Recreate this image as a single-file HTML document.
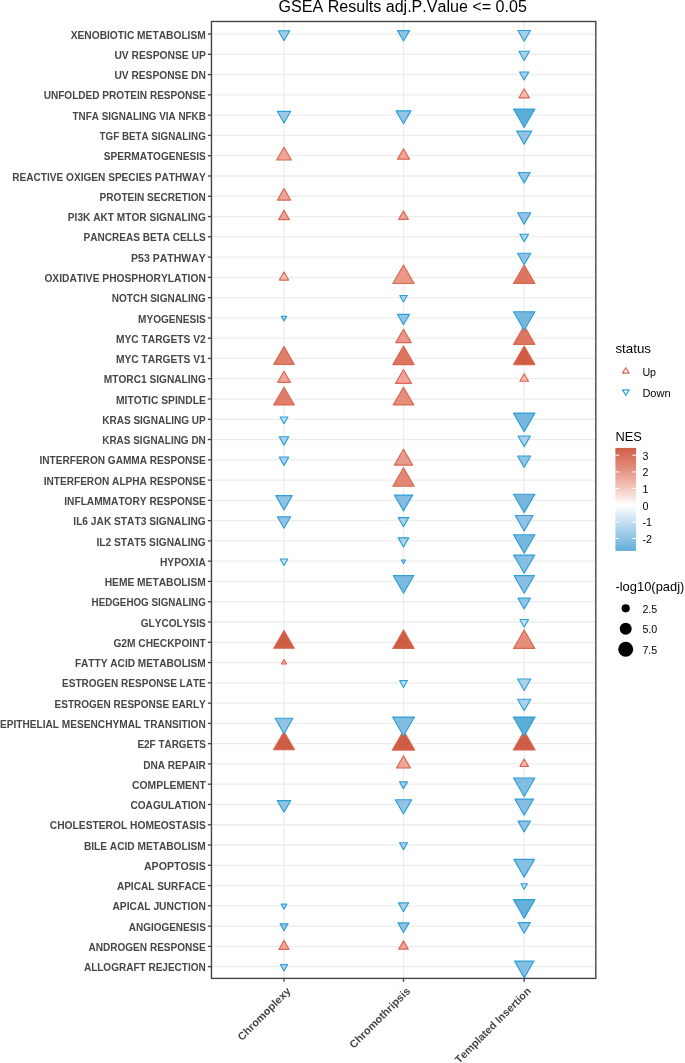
<!DOCTYPE html>
<html lang="en"><head><meta charset="utf-8"><title>GSEA Results</title>
<style>html,body{margin:0;padding:0;background:#fff}svg{display:block}text{font-family:"Liberation Sans",Arial,sans-serif;font-kerning:none}.yl{font-weight:bold;font-size:10.67px;fill:#464646}.xl{font-weight:bold;font-size:10.67px;fill:#464646}.lt{font-size:13.33px;fill:#000}.ll{font-size:10.67px;fill:#000}</style></head><body>
<svg width="685" height="1063" viewBox="0 0 685 1063">
<rect width="685" height="1063" fill="#fff"/>
<text x="402.7" y="11.8" font-size="16" text-anchor="middle" textLength="248.3" lengthAdjust="spacingAndGlyphs" fill="#000">GSEA Results adj.P.Value &lt;= 0.05</text>
<g stroke="#ededed" stroke-width="1.3">
<line x1="211.45" x2="595.8" y1="34.06" y2="34.06"/>
<line x1="211.45" x2="595.8" y1="54.33" y2="54.33"/>
<line x1="211.45" x2="595.8" y1="74.61" y2="74.61"/>
<line x1="211.45" x2="595.8" y1="94.88" y2="94.88"/>
<line x1="211.45" x2="595.8" y1="115.16" y2="115.16"/>
<line x1="211.45" x2="595.8" y1="135.43" y2="135.43"/>
<line x1="211.45" x2="595.8" y1="155.70" y2="155.70"/>
<line x1="211.45" x2="595.8" y1="175.98" y2="175.98"/>
<line x1="211.45" x2="595.8" y1="196.25" y2="196.25"/>
<line x1="211.45" x2="595.8" y1="216.53" y2="216.53"/>
<line x1="211.45" x2="595.8" y1="236.80" y2="236.80"/>
<line x1="211.45" x2="595.8" y1="257.07" y2="257.07"/>
<line x1="211.45" x2="595.8" y1="277.35" y2="277.35"/>
<line x1="211.45" x2="595.8" y1="297.62" y2="297.62"/>
<line x1="211.45" x2="595.8" y1="317.90" y2="317.90"/>
<line x1="211.45" x2="595.8" y1="338.17" y2="338.17"/>
<line x1="211.45" x2="595.8" y1="358.44" y2="358.44"/>
<line x1="211.45" x2="595.8" y1="378.72" y2="378.72"/>
<line x1="211.45" x2="595.8" y1="398.99" y2="398.99"/>
<line x1="211.45" x2="595.8" y1="419.27" y2="419.27"/>
<line x1="211.45" x2="595.8" y1="439.54" y2="439.54"/>
<line x1="211.45" x2="595.8" y1="459.81" y2="459.81"/>
<line x1="211.45" x2="595.8" y1="480.09" y2="480.09"/>
<line x1="211.45" x2="595.8" y1="500.36" y2="500.36"/>
<line x1="211.45" x2="595.8" y1="520.64" y2="520.64"/>
<line x1="211.45" x2="595.8" y1="540.91" y2="540.91"/>
<line x1="211.45" x2="595.8" y1="561.18" y2="561.18"/>
<line x1="211.45" x2="595.8" y1="581.46" y2="581.46"/>
<line x1="211.45" x2="595.8" y1="601.73" y2="601.73"/>
<line x1="211.45" x2="595.8" y1="622.01" y2="622.01"/>
<line x1="211.45" x2="595.8" y1="642.28" y2="642.28"/>
<line x1="211.45" x2="595.8" y1="662.55" y2="662.55"/>
<line x1="211.45" x2="595.8" y1="682.83" y2="682.83"/>
<line x1="211.45" x2="595.8" y1="703.10" y2="703.10"/>
<line x1="211.45" x2="595.8" y1="723.38" y2="723.38"/>
<line x1="211.45" x2="595.8" y1="743.65" y2="743.65"/>
<line x1="211.45" x2="595.8" y1="763.92" y2="763.92"/>
<line x1="211.45" x2="595.8" y1="784.20" y2="784.20"/>
<line x1="211.45" x2="595.8" y1="804.47" y2="804.47"/>
<line x1="211.45" x2="595.8" y1="824.75" y2="824.75"/>
<line x1="211.45" x2="595.8" y1="845.02" y2="845.02"/>
<line x1="211.45" x2="595.8" y1="865.29" y2="865.29"/>
<line x1="211.45" x2="595.8" y1="885.57" y2="885.57"/>
<line x1="211.45" x2="595.8" y1="905.84" y2="905.84"/>
<line x1="211.45" x2="595.8" y1="926.12" y2="926.12"/>
<line x1="211.45" x2="595.8" y1="946.39" y2="946.39"/>
<line x1="211.45" x2="595.8" y1="966.66" y2="966.66"/>
<line x1="284.00" x2="284.00" y1="21.5" y2="978.4"/>
<line x1="403.50" x2="403.50" y1="21.5" y2="978.4"/>
<line x1="524.20" x2="524.20" y1="21.5" y2="978.4"/>
</g>
<g stroke-width="1.15" stroke-linejoin="round">
<polygon points="284.00,970.98 287.74,964.50 280.26,964.50" fill="#ACD0EA" stroke="#2DA0D7"/>
<polygon points="524.20,977.88 533.92,961.05 514.48,961.05" fill="#84BDE1" stroke="#2DA0D7"/>
<polygon points="284.00,940.57 289.04,949.30 278.96,949.30" fill="#EEA597" stroke="#DA6752"/>
<polygon points="403.50,940.87 408.28,949.15 398.72,949.15" fill="#EEA597" stroke="#DA6752"/>
<polygon points="284.00,930.74 288.00,923.81 280.00,923.81" fill="#97C6E5" stroke="#2DA0D7"/>
<polygon points="403.50,932.54 409.06,922.91 397.94,922.91" fill="#92C3E4" stroke="#2DA0D7"/>
<polygon points="524.20,933.24 530.37,922.56 518.03,922.56" fill="#92C3E4" stroke="#2DA0D7"/>
<polygon points="284.00,909.16 286.88,904.18 281.12,904.18" fill="#B1D3EB" stroke="#2DA0D7"/>
<polygon points="403.50,911.66 408.54,902.93 398.46,902.93" fill="#ACD0EA" stroke="#2DA0D7"/>
<polygon points="524.20,918.16 534.87,899.68 513.53,899.68" fill="#66B0DA" stroke="#2DA0D7"/>
<polygon points="524.20,889.19 527.34,883.76 521.06,883.76" fill="#C6DEF1" stroke="#2DA0D7"/>
<polygon points="524.20,877.11 534.44,859.38 513.96,859.38" fill="#87BEE2" stroke="#2DA0D7"/>
<polygon points="403.50,849.64 407.50,842.71 399.50,842.71" fill="#ACD0EA" stroke="#2DA0D7"/>
<polygon points="524.20,831.87 530.37,821.19 518.03,821.19" fill="#92C3E4" stroke="#2DA0D7"/>
<polygon points="284.00,812.19 290.69,800.61 277.31,800.61" fill="#92C3E4" stroke="#2DA0D7"/>
<polygon points="403.50,813.99 411.74,799.71 395.26,799.71" fill="#92C3E4" stroke="#2DA0D7"/>
<polygon points="524.20,815.19 533.48,799.11 514.92,799.11" fill="#87BEE2" stroke="#2DA0D7"/>
<polygon points="403.50,788.82 407.50,781.89 399.50,781.89" fill="#A7CDE9" stroke="#2DA0D7"/>
<polygon points="524.20,796.52 534.87,778.04 513.53,778.04" fill="#82BCE0" stroke="#2DA0D7"/>
<polygon points="403.50,755.80 410.53,767.98 396.47,767.98" fill="#EEA597" stroke="#DA6752"/>
<polygon points="524.20,759.00 528.46,766.38 519.94,766.38" fill="#F4BBB0" stroke="#DA6752"/>
<polygon points="284.00,731.63 294.41,749.66 273.59,749.66" fill="#CF5D46" stroke="#DA6752"/>
<polygon points="403.50,730.73 414.69,750.11 392.31,750.11" fill="#CF5D46" stroke="#DA6752"/>
<polygon points="524.20,731.03 535.13,749.96 513.27,749.96" fill="#CF5D46" stroke="#DA6752"/>
<polygon points="284.00,733.60 292.85,718.27 275.15,718.27" fill="#92C3E4" stroke="#2DA0D7"/>
<polygon points="403.50,736.00 414.43,717.07 392.57,717.07" fill="#82BCE0" stroke="#2DA0D7"/>
<polygon points="524.20,736.00 535.13,717.07 513.27,717.07" fill="#5BACD8" stroke="#2DA0D7"/>
<polygon points="524.20,710.72 530.80,699.29 517.60,699.29" fill="#ACD0EA" stroke="#2DA0D7"/>
<polygon points="403.50,687.35 407.41,680.57 399.59,680.57" fill="#C6DEF1" stroke="#2DA0D7"/>
<polygon points="524.20,690.45 530.80,679.02 517.60,679.02" fill="#ACD0EA" stroke="#2DA0D7"/>
<polygon points="284.00,659.63 286.53,664.01 281.47,664.01" fill="#F4BBB0" stroke="#DA6752"/>
<polygon points="284.00,630.46 294.24,648.19 273.76,648.19" fill="#CF5D46" stroke="#DA6752"/>
<polygon points="403.50,629.96 414.17,648.44 392.83,648.44" fill="#CF5D46" stroke="#DA6752"/>
<polygon points="524.20,629.96 534.87,648.44 513.53,648.44" fill="#E58E7C" stroke="#DA6752"/>
<polygon points="524.20,627.03 528.55,619.50 519.85,619.50" fill="#C6DEF1" stroke="#2DA0D7"/>
<polygon points="524.20,608.85 530.37,598.17 518.03,598.17" fill="#92C3E4" stroke="#2DA0D7"/>
<polygon points="403.50,593.28 413.74,575.55 393.26,575.55" fill="#7CB9DF" stroke="#2DA0D7"/>
<polygon points="524.20,593.28 534.44,575.55 513.96,575.55" fill="#8ABFE2" stroke="#2DA0D7"/>
<polygon points="284.00,565.50 287.74,559.02 280.26,559.02" fill="#C6DEF1" stroke="#2DA0D7"/>
<polygon points="403.50,563.60 405.60,559.97 401.40,559.97" fill="#C6DEF1" stroke="#2DA0D7"/>
<polygon points="524.20,573.30 534.70,555.12 513.70,555.12" fill="#87BEE2" stroke="#2DA0D7"/>
<polygon points="403.50,547.03 408.80,537.85 398.20,537.85" fill="#ACD0EA" stroke="#2DA0D7"/>
<polygon points="524.20,553.23 534.87,534.75 513.53,534.75" fill="#77B7DE" stroke="#2DA0D7"/>
<polygon points="284.00,528.26 290.60,516.83 277.40,516.83" fill="#92C3E4" stroke="#2DA0D7"/>
<polygon points="403.50,526.76 408.80,517.58 398.20,517.58" fill="#ACD0EA" stroke="#2DA0D7"/>
<polygon points="524.20,530.96 533.14,515.48 515.26,515.48" fill="#92C3E4" stroke="#2DA0D7"/>
<polygon points="284.00,509.88 292.24,495.60 275.76,495.60" fill="#92C3E4" stroke="#2DA0D7"/>
<polygon points="403.50,510.88 412.61,495.10 394.39,495.10" fill="#84BDE1" stroke="#2DA0D7"/>
<polygon points="524.20,512.68 534.87,494.20 513.53,494.20" fill="#77B7DE" stroke="#2DA0D7"/>
<polygon points="403.50,467.77 414.17,486.25 392.83,486.25" fill="#E28674" stroke="#DA6752"/>
<polygon points="284.00,465.38 288.82,457.03 279.18,457.03" fill="#ACD0EA" stroke="#2DA0D7"/>
<polygon points="403.50,449.29 412.61,465.07 394.39,465.07" fill="#EA9A8A" stroke="#DA6752"/>
<polygon points="524.20,467.43 530.80,456.00 517.60,456.00" fill="#92C3E4" stroke="#2DA0D7"/>
<polygon points="284.00,445.11 288.82,436.75 279.18,436.75" fill="#ACD0EA" stroke="#2DA0D7"/>
<polygon points="524.20,446.66 530.37,435.98 518.03,435.98" fill="#ACD0EA" stroke="#2DA0D7"/>
<polygon points="284.00,423.79 287.91,417.01 280.09,417.01" fill="#C6DEF1" stroke="#2DA0D7"/>
<polygon points="524.20,431.59 534.87,413.11 513.53,413.11" fill="#77B7DE" stroke="#2DA0D7"/>
<polygon points="284.00,387.17 294.24,404.90 273.76,404.90" fill="#DF7F6B" stroke="#DA6752"/>
<polygon points="403.50,387.17 413.74,404.90 393.26,404.90" fill="#E58E7C" stroke="#DA6752"/>
<polygon points="284.00,371.30 290.43,382.43 277.57,382.43" fill="#EEA597" stroke="#DA6752"/>
<polygon points="403.50,369.50 411.48,383.33 395.52,383.33" fill="#EEA597" stroke="#DA6752"/>
<polygon points="524.20,373.70 528.55,381.23 519.85,381.23" fill="#F4BBB0" stroke="#DA6752"/>
<polygon points="284.00,346.62 294.24,364.35 273.76,364.35" fill="#DF7F6B" stroke="#DA6752"/>
<polygon points="403.50,346.12 414.17,364.60 392.83,364.60" fill="#DB7560" stroke="#DA6752"/>
<polygon points="524.20,346.12 534.87,364.60 513.53,364.60" fill="#CF5D46" stroke="#DA6752"/>
<polygon points="403.50,329.25 411.22,342.63 395.78,342.63" fill="#E99787" stroke="#DA6752"/>
<polygon points="524.20,325.85 534.87,344.33 513.53,344.33" fill="#DB7560" stroke="#DA6752"/>
<polygon points="284.00,320.87 286.57,316.41 281.43,316.41" fill="#C6DEF1" stroke="#2DA0D7"/>
<polygon points="403.50,324.82 409.49,314.44 397.51,314.44" fill="#92C3E4" stroke="#2DA0D7"/>
<polygon points="524.20,330.22 534.87,311.74 513.53,311.74" fill="#77B7DE" stroke="#2DA0D7"/>
<polygon points="403.50,301.94 407.24,295.46 399.76,295.46" fill="#ACD0EA" stroke="#2DA0D7"/>
<polygon points="284.00,271.93 288.69,280.06 279.31,280.06" fill="#F4BBB0" stroke="#DA6752"/>
<polygon points="403.50,265.03 414.17,283.51 392.83,283.51" fill="#E99787" stroke="#DA6752"/>
<polygon points="524.20,265.03 534.87,283.51 513.53,283.51" fill="#DB7560" stroke="#DA6752"/>
<polygon points="524.20,264.69 530.80,253.26 517.60,253.26" fill="#92C3E4" stroke="#2DA0D7"/>
<polygon points="524.20,241.82 528.55,234.29 519.85,234.29" fill="#ACD0EA" stroke="#2DA0D7"/>
<polygon points="284.00,210.21 289.47,219.69 278.53,219.69" fill="#EEA597" stroke="#DA6752"/>
<polygon points="403.50,210.96 408.32,219.31 398.68,219.31" fill="#EEA597" stroke="#DA6752"/>
<polygon points="524.20,224.15 530.80,212.72 517.60,212.72" fill="#92C3E4" stroke="#2DA0D7"/>
<polygon points="284.00,188.63 290.60,200.06 277.40,200.06" fill="#EEA597" stroke="#DA6752"/>
<polygon points="524.20,182.90 530.19,172.52 518.21,172.52" fill="#92C3E4" stroke="#2DA0D7"/>
<polygon points="284.00,147.18 291.38,159.96 276.62,159.96" fill="#EEA597" stroke="#DA6752"/>
<polygon points="403.50,148.78 409.49,159.16 397.51,159.16" fill="#EEA597" stroke="#DA6752"/>
<polygon points="524.20,144.15 531.75,131.07 516.65,131.07" fill="#92C3E4" stroke="#2DA0D7"/>
<polygon points="284.00,122.88 290.69,111.30 277.31,111.30" fill="#9FCAE7" stroke="#2DA0D7"/>
<polygon points="403.50,123.73 410.92,110.87 396.08,110.87" fill="#92C3E4" stroke="#2DA0D7"/>
<polygon points="524.20,127.48 534.87,109.00 513.53,109.00" fill="#5BACD8" stroke="#2DA0D7"/>
<polygon points="524.20,88.76 529.50,97.94 518.90,97.94" fill="#F4BBB0" stroke="#DA6752"/>
<polygon points="524.20,79.93 528.81,71.95 519.59,71.95" fill="#ACD0EA" stroke="#2DA0D7"/>
<polygon points="524.20,60.45 529.50,51.27 518.90,51.27" fill="#ACD0EA" stroke="#2DA0D7"/>
<polygon points="284.00,40.68 289.73,30.75 278.27,30.75" fill="#A2CBE8" stroke="#2DA0D7"/>
<polygon points="403.50,40.98 409.49,30.60 397.51,30.60" fill="#92C3E4" stroke="#2DA0D7"/>
<polygon points="524.20,41.28 530.45,30.45 517.95,30.45" fill="#A7CDE9" stroke="#2DA0D7"/>
</g>
<rect x="211.45" y="21.5" width="384.34999999999997" height="956.9" fill="none" stroke="#454545" stroke-width="1.4"/>
<g stroke="#444" stroke-width="1.3">
<line x1="207.9" x2="211.45" y1="34.06" y2="34.06"/>
<line x1="207.9" x2="211.45" y1="54.33" y2="54.33"/>
<line x1="207.9" x2="211.45" y1="74.61" y2="74.61"/>
<line x1="207.9" x2="211.45" y1="94.88" y2="94.88"/>
<line x1="207.9" x2="211.45" y1="115.16" y2="115.16"/>
<line x1="207.9" x2="211.45" y1="135.43" y2="135.43"/>
<line x1="207.9" x2="211.45" y1="155.70" y2="155.70"/>
<line x1="207.9" x2="211.45" y1="175.98" y2="175.98"/>
<line x1="207.9" x2="211.45" y1="196.25" y2="196.25"/>
<line x1="207.9" x2="211.45" y1="216.53" y2="216.53"/>
<line x1="207.9" x2="211.45" y1="236.80" y2="236.80"/>
<line x1="207.9" x2="211.45" y1="257.07" y2="257.07"/>
<line x1="207.9" x2="211.45" y1="277.35" y2="277.35"/>
<line x1="207.9" x2="211.45" y1="297.62" y2="297.62"/>
<line x1="207.9" x2="211.45" y1="317.90" y2="317.90"/>
<line x1="207.9" x2="211.45" y1="338.17" y2="338.17"/>
<line x1="207.9" x2="211.45" y1="358.44" y2="358.44"/>
<line x1="207.9" x2="211.45" y1="378.72" y2="378.72"/>
<line x1="207.9" x2="211.45" y1="398.99" y2="398.99"/>
<line x1="207.9" x2="211.45" y1="419.27" y2="419.27"/>
<line x1="207.9" x2="211.45" y1="439.54" y2="439.54"/>
<line x1="207.9" x2="211.45" y1="459.81" y2="459.81"/>
<line x1="207.9" x2="211.45" y1="480.09" y2="480.09"/>
<line x1="207.9" x2="211.45" y1="500.36" y2="500.36"/>
<line x1="207.9" x2="211.45" y1="520.64" y2="520.64"/>
<line x1="207.9" x2="211.45" y1="540.91" y2="540.91"/>
<line x1="207.9" x2="211.45" y1="561.18" y2="561.18"/>
<line x1="207.9" x2="211.45" y1="581.46" y2="581.46"/>
<line x1="207.9" x2="211.45" y1="601.73" y2="601.73"/>
<line x1="207.9" x2="211.45" y1="622.01" y2="622.01"/>
<line x1="207.9" x2="211.45" y1="642.28" y2="642.28"/>
<line x1="207.9" x2="211.45" y1="662.55" y2="662.55"/>
<line x1="207.9" x2="211.45" y1="682.83" y2="682.83"/>
<line x1="207.9" x2="211.45" y1="703.10" y2="703.10"/>
<line x1="207.9" x2="211.45" y1="723.38" y2="723.38"/>
<line x1="207.9" x2="211.45" y1="743.65" y2="743.65"/>
<line x1="207.9" x2="211.45" y1="763.92" y2="763.92"/>
<line x1="207.9" x2="211.45" y1="784.20" y2="784.20"/>
<line x1="207.9" x2="211.45" y1="804.47" y2="804.47"/>
<line x1="207.9" x2="211.45" y1="824.75" y2="824.75"/>
<line x1="207.9" x2="211.45" y1="845.02" y2="845.02"/>
<line x1="207.9" x2="211.45" y1="865.29" y2="865.29"/>
<line x1="207.9" x2="211.45" y1="885.57" y2="885.57"/>
<line x1="207.9" x2="211.45" y1="905.84" y2="905.84"/>
<line x1="207.9" x2="211.45" y1="926.12" y2="926.12"/>
<line x1="207.9" x2="211.45" y1="946.39" y2="946.39"/>
<line x1="207.9" x2="211.45" y1="966.66" y2="966.66"/>
<line x1="284.00" x2="284.00" y1="978.4" y2="981.8"/>
<line x1="403.50" x2="403.50" y1="978.4" y2="981.8"/>
<line x1="524.20" x2="524.20" y1="978.4" y2="981.8"/>
</g>
<text class="yl" x="70.7" y="38.66" textLength="135.1" lengthAdjust="spacingAndGlyphs">XENOBIOTIC METABOLISM</text>
<text class="yl" x="114.4" y="58.93" textLength="91.4" lengthAdjust="spacingAndGlyphs">UV RESPONSE UP</text>
<text class="yl" x="114.4" y="79.21" textLength="91.4" lengthAdjust="spacingAndGlyphs">UV RESPONSE DN</text>
<text class="yl" x="43.7" y="99.48" textLength="162.1" lengthAdjust="spacingAndGlyphs">UNFOLDED PROTEIN RESPONSE</text>
<text class="yl" x="72.6" y="119.76" textLength="133.2" lengthAdjust="spacingAndGlyphs">TNFA SIGNALING VIA NFKB</text>
<text class="yl" x="99.6" y="140.03" textLength="106.2" lengthAdjust="spacingAndGlyphs">TGF BETA SIGNALING</text>
<text class="yl" x="103.8" y="160.30" textLength="102.0" lengthAdjust="spacingAndGlyphs">SPERMATOGENESIS</text>
<text class="yl" x="12.2" y="180.58" textLength="193.6" lengthAdjust="spacingAndGlyphs">REACTIVE OXIGEN SPECIES PATHWAY</text>
<text class="yl" x="99.6" y="200.85" textLength="106.2" lengthAdjust="spacingAndGlyphs">PROTEIN SECRETION</text>
<text class="yl" x="67.8" y="221.13" textLength="138.0" lengthAdjust="spacingAndGlyphs">PI3K AKT MTOR SIGNALING</text>
<text class="yl" x="83.5" y="241.40" textLength="122.3" lengthAdjust="spacingAndGlyphs">PANCREAS BETA CELLS</text>
<text class="yl" x="131.1" y="261.67" textLength="74.7" lengthAdjust="spacingAndGlyphs">P53 PATHWAY</text>
<text class="yl" x="44.4" y="281.95" textLength="161.4" lengthAdjust="spacingAndGlyphs">OXIDATIVE PHOSPHORYLATION</text>
<text class="yl" x="111.8" y="302.22" textLength="94.0" lengthAdjust="spacingAndGlyphs">NOTCH SIGNALING</text>
<text class="yl" x="138.1" y="322.50" textLength="67.7" lengthAdjust="spacingAndGlyphs">MYOGENESIS</text>
<text class="yl" x="116.0" y="342.77" textLength="89.8" lengthAdjust="spacingAndGlyphs">MYC TARGETS V2</text>
<text class="yl" x="116.0" y="363.04" textLength="89.8" lengthAdjust="spacingAndGlyphs">MYC TARGETS V1</text>
<text class="yl" x="103.8" y="383.32" textLength="102.0" lengthAdjust="spacingAndGlyphs">MTORC1 SIGNALING</text>
<text class="yl" x="116.0" y="403.59" textLength="89.8" lengthAdjust="spacingAndGlyphs">MITOTIC SPINDLE</text>
<text class="yl" x="102.2" y="423.87" textLength="103.6" lengthAdjust="spacingAndGlyphs">KRAS SIGNALING UP</text>
<text class="yl" x="102.2" y="444.14" textLength="103.6" lengthAdjust="spacingAndGlyphs">KRAS SIGNALING DN</text>
<text class="yl" x="39.5" y="464.41" textLength="166.3" lengthAdjust="spacingAndGlyphs">INTERFERON GAMMA RESPONSE</text>
<text class="yl" x="43.7" y="484.69" textLength="162.1" lengthAdjust="spacingAndGlyphs">INTERFERON ALPHA RESPONSE</text>
<text class="yl" x="64.3" y="504.96" textLength="141.5" lengthAdjust="spacingAndGlyphs">INFLAMMATORY RESPONSE</text>
<text class="yl" x="73.3" y="525.24" textLength="132.5" lengthAdjust="spacingAndGlyphs">IL6 JAK STAT3 SIGNALING</text>
<text class="yl" x="96.4" y="545.51" textLength="109.4" lengthAdjust="spacingAndGlyphs">IL2 STAT5 SIGNALING</text>
<text class="yl" x="160.0" y="565.78" textLength="45.8" lengthAdjust="spacingAndGlyphs">HYPOXIA</text>
<text class="yl" x="104.7" y="586.06" textLength="101.1" lengthAdjust="spacingAndGlyphs">HEME METABOLISM</text>
<text class="yl" x="91.6" y="606.33" textLength="114.2" lengthAdjust="spacingAndGlyphs">HEDGEHOG SIGNALING</text>
<text class="yl" x="140.7" y="626.61" textLength="65.1" lengthAdjust="spacingAndGlyphs">GLYCOLYSIS</text>
<text class="yl" x="113.4" y="646.88" textLength="92.4" lengthAdjust="spacingAndGlyphs">G2M CHECKPOINT</text>
<text class="yl" x="74.9" y="667.15" textLength="130.9" lengthAdjust="spacingAndGlyphs">FATTY ACID METABOLISM</text>
<text class="yl" x="62.0" y="687.43" textLength="143.8" lengthAdjust="spacingAndGlyphs">ESTROGEN RESPONSE LATE</text>
<text class="yl" x="54.6" y="707.70" textLength="151.2" lengthAdjust="spacingAndGlyphs">ESTROGEN RESPONSE EARLY</text>
<text class="yl" x="0.0" y="727.98" textLength="205.8" lengthAdjust="spacingAndGlyphs">EPITHELIAL MESENCHYMAL TRANSITION</text>
<text class="yl" x="137.5" y="748.25" textLength="68.3" lengthAdjust="spacingAndGlyphs">E2F TARGETS</text>
<text class="yl" x="143.3" y="768.52" textLength="62.5" lengthAdjust="spacingAndGlyphs">DNA REPAIR</text>
<text class="yl" x="132.0" y="788.80" textLength="73.8" lengthAdjust="spacingAndGlyphs">COMPLEMENT</text>
<text class="yl" x="130.4" y="809.07" textLength="75.4" lengthAdjust="spacingAndGlyphs">COAGULATION</text>
<text class="yl" x="49.8" y="829.35" textLength="156.0" lengthAdjust="spacingAndGlyphs">CHOLESTEROL HOMEOSTASIS</text>
<text class="yl" x="83.9" y="849.62" textLength="121.9" lengthAdjust="spacingAndGlyphs">BILE ACID METABOLISM</text>
<text class="yl" x="143.9" y="869.89" textLength="61.9" lengthAdjust="spacingAndGlyphs">APOPTOSIS</text>
<text class="yl" x="116.9" y="890.17" textLength="88.9" lengthAdjust="spacingAndGlyphs">APICAL SURFACE</text>
<text class="yl" x="112.4" y="910.44" textLength="93.4" lengthAdjust="spacingAndGlyphs">APICAL JUNCTION</text>
<text class="yl" x="128.8" y="930.72" textLength="77.0" lengthAdjust="spacingAndGlyphs">ANGIOGENESIS</text>
<text class="yl" x="88.4" y="950.99" textLength="117.4" lengthAdjust="spacingAndGlyphs">ANDROGEN RESPONSE</text>
<text class="yl" x="83.9" y="971.26" textLength="121.9" lengthAdjust="spacingAndGlyphs">ALLOGRAFT REJECTION</text>
<text class="xl" x="-70.0" y="0" textLength="70.0" lengthAdjust="spacingAndGlyphs" transform="translate(291.40,991.70) rotate(-45)">Chromoplexy</text>
<text class="xl" x="-80.9" y="0" textLength="80.9" lengthAdjust="spacingAndGlyphs" transform="translate(410.90,991.70) rotate(-45)">Chromothripsis</text>
<text class="xl" x="-102.2" y="0" textLength="102.2" lengthAdjust="spacingAndGlyphs" transform="translate(531.60,991.70) rotate(-45)">Templated Insertion</text>
<text class="lt" x="615.4" y="352.5" textLength="35.6" lengthAdjust="spacingAndGlyphs">status</text>
<polygon points="625.85,367.7 629.15,373.1 622.55,373.1" fill="none" stroke="#DA6752" stroke-width="1.2" stroke-linejoin="round"/>
<polygon points="625.85,395.3 629.15,389.9 622.55,389.9" fill="none" stroke="#2DA0D7" stroke-width="1.2" stroke-linejoin="round"/>
<text class="ll" x="642.4" y="375.9">Up</text>
<text class="ll" x="642.4" y="396.5" textLength="28.2" lengthAdjust="spacingAndGlyphs">Down</text>
<text class="lt" x="615.4" y="440.7" textLength="26.4" lengthAdjust="spacingAndGlyphs">NES</text>
<defs><linearGradient id="nes" x1="0" y1="0" x2="0" y2="1"><stop offset="0" stop-color="#D05F49"/><stop offset="0.16" stop-color="#DF8370"/><stop offset="0.39" stop-color="#F3C8BE"/><stop offset="0.556" stop-color="#ffffff"/><stop offset="0.72" stop-color="#C6DFF0"/><stop offset="1" stop-color="#62ADD8"/></linearGradient></defs>
<rect x="615.4" y="447.9" width="20.7" height="103" fill="url(#nes)"/>
<line x1="615.4" x2="619.1999999999999" y1="455.2" y2="455.2" stroke="#fff" stroke-width="1"/><line x1="632.3" x2="636.1" y1="455.2" y2="455.2" stroke="#fff" stroke-width="1"/>
<text class="ll" x="642.4" y="459.5">3</text>
<line x1="615.4" x2="619.1999999999999" y1="471.9" y2="471.9" stroke="#fff" stroke-width="1"/><line x1="632.3" x2="636.1" y1="471.9" y2="471.9" stroke="#fff" stroke-width="1"/>
<text class="ll" x="642.4" y="476.2">2</text>
<line x1="615.4" x2="619.1999999999999" y1="488.5" y2="488.5" stroke="#fff" stroke-width="1"/><line x1="632.3" x2="636.1" y1="488.5" y2="488.5" stroke="#fff" stroke-width="1"/>
<text class="ll" x="642.4" y="492.8">1</text>
<line x1="615.4" x2="619.1999999999999" y1="505.2" y2="505.2" stroke="#fff" stroke-width="1"/><line x1="632.3" x2="636.1" y1="505.2" y2="505.2" stroke="#fff" stroke-width="1"/>
<text class="ll" x="642.4" y="509.5">0</text>
<line x1="615.4" x2="619.1999999999999" y1="521.9" y2="521.9" stroke="#fff" stroke-width="1"/><line x1="632.3" x2="636.1" y1="521.9" y2="521.9" stroke="#fff" stroke-width="1"/>
<text class="ll" x="642.4" y="526.2">-1</text>
<line x1="615.4" x2="619.1999999999999" y1="538.5" y2="538.5" stroke="#fff" stroke-width="1"/><line x1="632.3" x2="636.1" y1="538.5" y2="538.5" stroke="#fff" stroke-width="1"/>
<text class="ll" x="642.4" y="542.8">-2</text>
<text class="lt" x="615.4" y="591" textLength="69.0" lengthAdjust="spacingAndGlyphs">-log10(padj)</text>
<circle cx="625.7" cy="608.3" r="4.1" fill="#000"/>
<text class="ll" x="642.4" y="612.6">2.5</text>
<circle cx="625.7" cy="628.7" r="6.0" fill="#000"/>
<text class="ll" x="642.4" y="633.0">5.0</text>
<circle cx="625.7" cy="649.2" r="7.5" fill="#000"/>
<text class="ll" x="642.4" y="653.5">7.5</text>
</svg></body></html>
